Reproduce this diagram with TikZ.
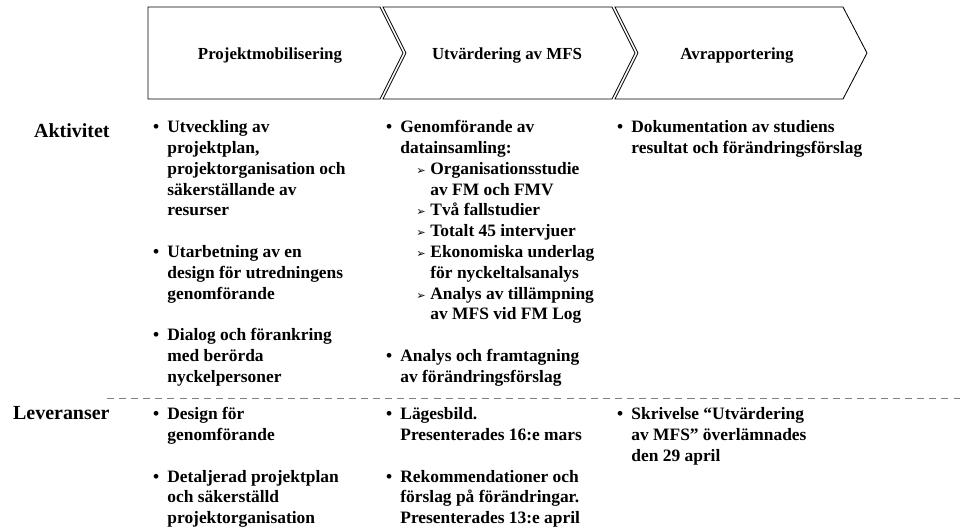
\documentclass[tikz,border=0pt]{standalone}
\usepackage{fontspec}
\setmainfont{Liberation Serif}
\newfontfamily\pilfont{DejaVu Sans}
\newcommand{\rader}[1]{\begin{tabular}[t]{@{}l@{}}#1\end{tabular}}
\begin{document}
\begin{tikzpicture}[x=0.025cm,y=-0.025cm,line width=0.6pt]

      \useasboundingbox (0,0) rectangle (960,529);

      \begin{scope}[line join=miter]
        \draw (148,7) -- (380,7) -- (403,53) -- (380,99) -- (148,99) -- cycle;
        \draw (383,7) -- (612,7) -- (635,53) -- (612,99) -- (383,99) -- (406,53) -- cycle;
        \draw (615,7) -- (843,7) -- (867,53) -- (843,99) -- (615,99) -- (638,53) -- cycle;
      \end{scope}

      \begin{scope}[every node/.style={anchor=base,inner sep=0pt,font=\bfseries\fontsize{12}{14}\selectfont}]
        \node (fas1) at (270,59) {Projektmobilisering};
        \node (fas2) at (507,59) {Utvärdering av MFS};
        \node (fas3) at (737,59) {Avrapportering};
      \end{scope}

      \begin{scope}[every node/.style={anchor=base east,inner sep=0pt,font=\bfseries\fontsize{14.2}{17}\selectfont}]
        \node (akt) at (110,137) {Aktivitet};
        \node (lev) at (110,419.5) {Leveranser};
      \end{scope}

      \draw[gray,dash pattern=on 5pt off 3.6pt] (107,398) -- (960,398);

      \begin{scope}[every node/.style={anchor=base west,inner sep=0pt,
          font=\bfseries\fontsize{12.38}{14.82}\selectfont}]
        \node (a11)  at (167,132.5) {\rader{Utveckling av\\projektplan,\\projektorganisation och\\säkerställande av\\resurser}};
        \node (a12)  at (167,257.5) {\rader{Utarbetning av en\\design för utredningens\\genomförande}};
        \node (a13)  at (167,340.8) {\rader{Dialog och förankring\\med berörda\\nyckelpersoner}};
        \node (a21)  at (400,132.5) {\rader{Genomförande av\\datainsamling:}};
        \node (a21a) at (430,174.2) {\rader{Organisationsstudie\\av FM och FMV}};
        \node (a21b) at (430,215.8) {\rader{Två fallstudier}};
        \node (a21c) at (430,236.7) {\rader{Totalt 45 intervjuer}};
        \node (a21d) at (430,257.5) {\rader{Ekonomiska underlag\\för nyckeltalsanalys}};
        \node (a21e) at (430,299.1) {\rader{Analys av tillämpning\\av MFS vid FM Log}};
        \node (a22)  at (400,361.6) {\rader{Analys och framtagning\\av förändringsförslag}};
        \node (a31)  at (631,132.5) {\rader{Dokumentation av studiens\\resultat och förändringsförslag}};
        \node (l11)  at (167,419.5) {\rader{Design för\\genomförande}};
        \node (l12)  at (167,482.0) {\rader{Detaljerad projektplan\\och säkerställd\\projektorganisation}};
        \node (l21)  at (400,419.5) {\rader{Lägesbild.\\Presenterades 16:e mars}};
        \node (l22)  at (400,482.0) {\rader{Rekommendationer och\\förslag på förändringar.\\Presenterades 13:e april}};
        \node (l31)  at (631,419.5) {\rader{Skrivelse “Utvärdering\\av MFS” överlämnades\\den 29 april}};
      \end{scope}

      \begin{scope}[every node/.style={anchor=base,inner sep=0pt,
          font=\bfseries\fontsize{12.38}{14.82}\selectfont}]
        \foreach \n in {a11,a12,a13,a21,a22,a31,l11,l12,l21,l22,l31}
          \node (p\n) at ([xshift=-0.27cm]\n.base west) {\textbullet};
        \foreach \n in {a21a,a21b,a21c,a21d,a21e}
          \node (p\n) at ([xshift=-0.22cm]\n.base west) {\pilfont\mdseries\fontsize{8}{9}\selectfont ➢};
      \end{scope}

    \end{tikzpicture}
\end{document}
